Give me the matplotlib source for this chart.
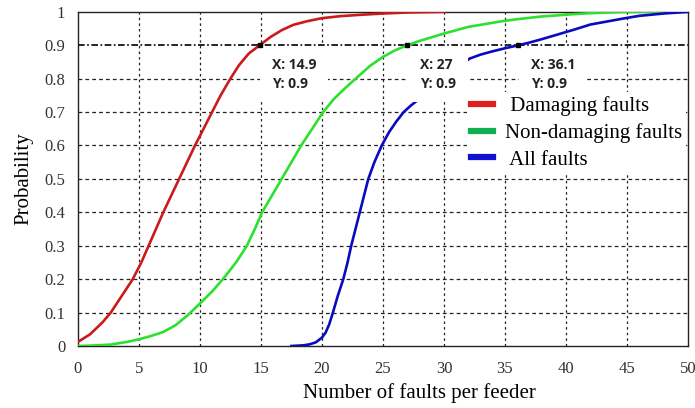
import matplotlib.pyplot as plt
from matplotlib.lines import Line2D

# curvas (CDF del numero de fallas por alimentador)
red_x = [0, 1, 2, 2.7, 3.6, 4.5, 5.2, 5.8, 6.4, 7.0, 7.65, 8.3, 8.95, 9.6, 10.3, 11.0, 11.7, 12.5,
         13.2, 14.0, 14.9, 15.8, 16.7, 17.65, 18.8, 20, 21.5, 23.1, 25, 27, 30]
red_y = [0.012, 0.035, 0.07, 0.1, 0.15, 0.2, 0.25, 0.3, 0.35, 0.4, 0.45, 0.5, 0.55, 0.6, 0.65,
         0.7, 0.75, 0.8, 0.84, 0.875, 0.9, 0.925, 0.945, 0.961, 0.972, 0.981, 0.987, 0.991,
         0.995, 0.998, 1.0]

green_x = [0, 1, 2.65, 4, 5, 6, 7, 8, 9, 10, 11, 12, 13, 13.85, 14.5, 15.1, 15.9, 16.7,
           17.5, 18.3, 19.2, 20.1, 21, 22, 23.1, 24, 25, 26, 27, 28, 30, 32, 34.6, 36, 38, 40.6,
           42, 44.7, 50]
green_y = [0, 0.001, 0.004, 0.012, 0.02, 0.03, 0.042, 0.062, 0.092, 0.127, 0.163, 0.205, 0.252,
           0.3, 0.35, 0.4, 0.45, 0.5, 0.55, 0.6, 0.65, 0.7, 0.74, 0.775, 0.811, 0.84, 0.865, 0.885,
           0.9, 0.913, 0.935, 0.955, 0.971, 0.978, 0.986, 0.993, 0.996, 1.0, 1.0]

blue_x = [17.5, 18.5, 19, 19.5, 20, 20.3, 20.6, 20.9, 21.3, 21.75, 22.1, 22.4, 22.75, 23.1, 23.45,
          23.8, 24.3, 24.9, 25.5, 26.1, 26.7, 27.3, 27.9, 29, 30, 31, 32.1, 33, 34, 35, 36.1, 37,
          38, 40.6, 42, 44.7, 46, 48, 50]
blue_y = [0, 0.002, 0.005, 0.011, 0.025, 0.04, 0.065, 0.1, 0.15, 0.2, 0.25, 0.3, 0.35, 0.4, 0.45,
          0.5, 0.55, 0.6, 0.64, 0.672, 0.7, 0.72, 0.737, 0.77, 0.8, 0.83, 0.86, 0.872, 0.882,
          0.891, 0.9, 0.908, 0.918, 0.946, 0.962, 0.98, 0.988, 0.995, 1.0]

tip_x = [14.9, 27, 36.1]
tip_y = [0.9, 0.9, 0.9]
tip_labels = ["X: 14.9\nY: 0.9", "X: 27\nY: 0.9", "X: 36.1\nY: 0.9"]

legend_labels = [" Damaging faults", "Non-damaging faults", " All faults"]

plt.rcParams["font.family"] = ["Liberation Serif", "DejaVu Serif"]

fig = plt.figure(figsize=(6.95, 4.08), dpi=100)
ax = fig.add_axes([0.112, 0.152, 0.878, 0.819])

ax.plot(red_x, red_y, color="#cc1a1a", lw=1.9, zorder=3)
ax.plot(green_x, green_y, color="#2ee02e", lw=1.9, zorder=3)
ax.plot(blue_x, blue_y, color="#0a0ac0", lw=1.9, zorder=3)

ax.set_xlim(0, 50)
ax.set_ylim(0, 1)
ax.set_xticks(range(0, 51, 5))
ax.set_yticks([i / 10 for i in range(11)])
ax.set_yticklabels(["0"] + ["0.%d" % i for i in range(1, 10)] + ["1"])

# rejilla punteada
for xv in range(5, 50, 5):
    ax.axvline(xv, color="#222222", lw=0.9, ls=(0, (2, 2.5)), zorder=1)
for i in range(1, 10):
    if i == 9:
        continue
    ax.axhline(i / 10, color="#222222", lw=0.9, ls=(0, (3, 2.5)), zorder=1)
ax.axhline(0.9, color="black", lw=1.2, ls=(0, (4, 1.5, 1, 1.5)), zorder=2)

# datatips
ax.plot(tip_x, tip_y, "s", color="black", ms=3.5, zorder=6)
for tx, ty, lab in zip(tip_x, tip_y, tip_labels):
    ax.annotate(lab, (tx, ty), xytext=(9, -21), textcoords="offset points",
                ha="left", va="center", fontsize=10, fontweight="bold",
                family=["Open Sans", "DejaVu Sans"], color="#222222", linespacing=1.4,
                bbox=dict(boxstyle="square,pad=0.85", fc="white", ec="none"), zorder=5)

handles = [Line2D([], [], color="#e02020", lw=4.5),
           Line2D([], [], color="#10b050", lw=4.5),
           Line2D([], [], color="#1010d0", lw=4.5)]
leg = ax.legend(handles, legend_labels, loc="upper left", bbox_to_anchor=(0.62, 0.79),
                fontsize=15, frameon=True, fancybox=False, framealpha=1, edgecolor="none",
                handlelength=1.05, handletextpad=0.6, labelspacing=0.33, borderpad=0.2)
leg.set_zorder(7)

for s in ax.spines.values():
    s.set_color("#222222")
    s.set_linewidth(1.0)
ax.tick_params(length=0, labelsize=12, colors="#333333")
ax.tick_params(axis="x", pad=11)
ax.tick_params(axis="y", pad=9)

ax.set_xlabel("Number of faults per feeder", fontsize=15)
ax.xaxis.set_label_coords(0.56, -0.112)
ax.set_ylabel("Probability", fontsize=15, labelpad=8)

fig.savefig("out.png", dpi=100)
